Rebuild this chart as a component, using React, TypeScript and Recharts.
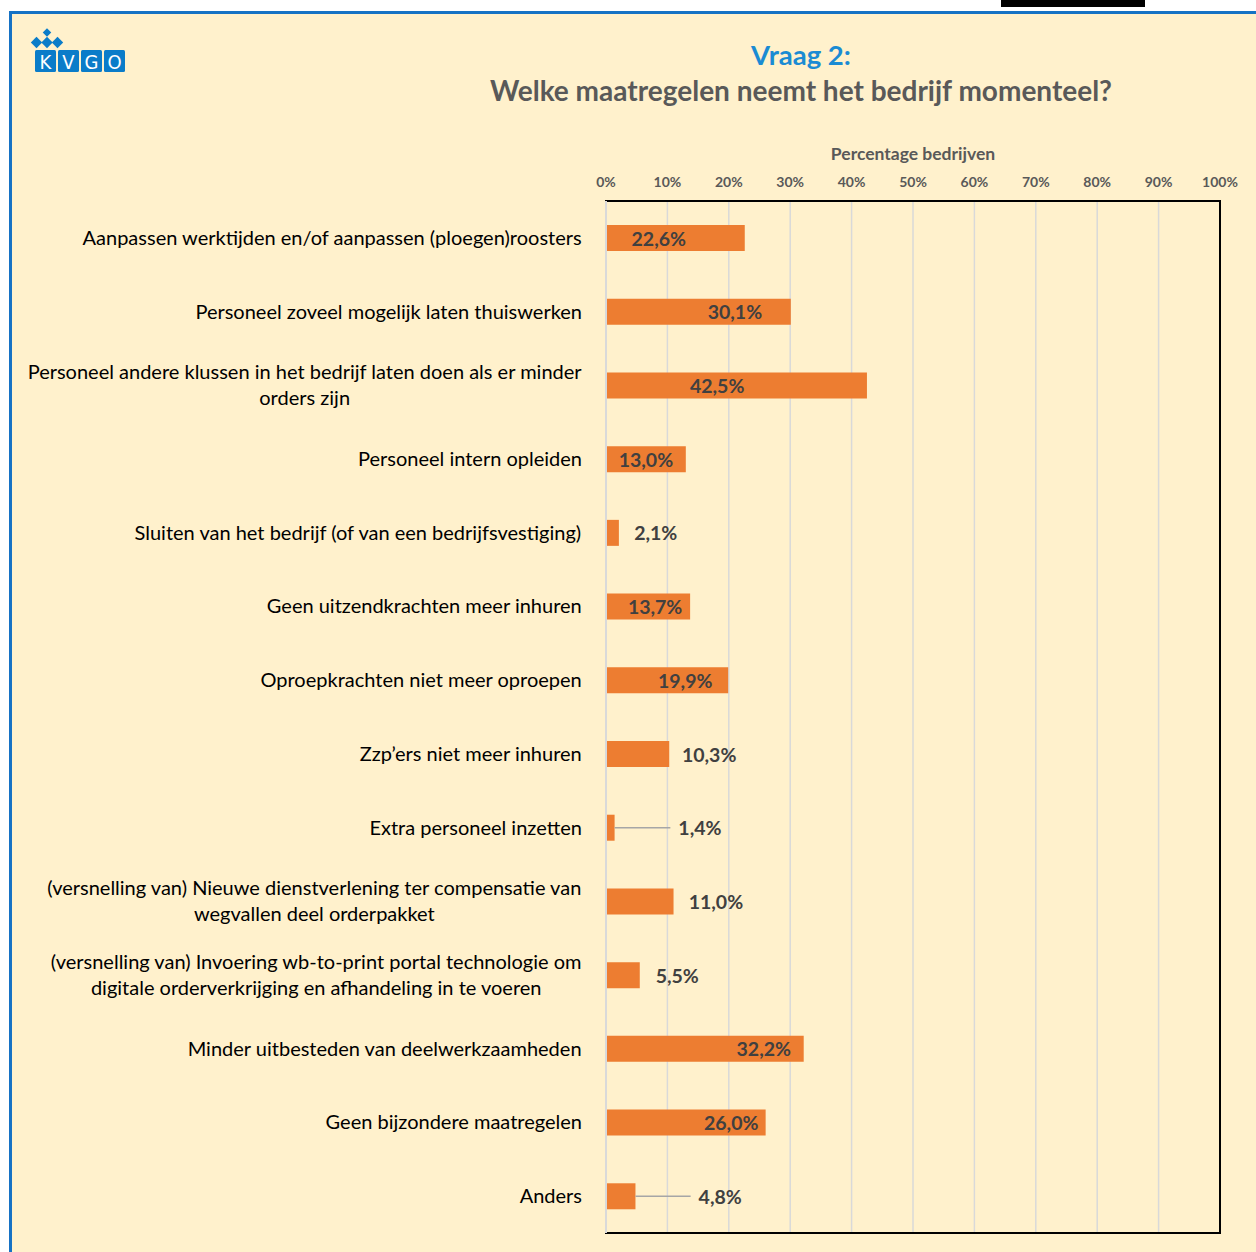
import React from "react";
import {
  BarChart,
  Bar,
  XAxis,
  YAxis,
  CartesianGrid,
  LabelList,
  ReferenceArea,
  ReferenceLine,
  Label,
} from "recharts";

const categories = [
  "Aanpassen werktijden en/of aanpassen (ploegen)roosters",
  "Personeel zoveel mogelijk laten thuiswerken",
  "Personeel andere klussen in het bedrijf laten doen als er minder\norders zijn",
  "Personeel intern opleiden",
  "Sluiten van het bedrijf (of van een bedrijfsvestiging)",
  "Geen uitzendkrachten meer inhuren",
  "Oproepkrachten niet meer oproepen",
  "Zzp’ers niet meer inhuren",
  "Extra personeel inzetten",
  "(versnelling van) Nieuwe dienstverlening ter compensatie van\nwegvallen deel orderpakket",
  "(versnelling van) Invoering wb-to-print portal technologie om\ndigitale orderverkrijging en afhandeling in te voeren",
  "Minder uitbesteden van deelwerkzaamheden",
  "Geen bijzondere maatregelen",
  "Anders",
];

const percentages = [22.6, 30.1, 42.5, 13.0, 2.1, 13.7, 19.9, 10.3, 1.4, 11.0, 5.5, 32.2, 26.0, 4.8];

// centre of each data label, in axis percent (placed by hand in the original)
const labelCentres = [8.6, 21.0, 18.1, 6.5, 8.1, 8.0, 12.9, 16.8, 15.3, 17.9, 11.6, 25.7, 20.4, 18.6];

const xTicks = [0, 10, 20, 30, 40, 50, 60, 70, 80, 90, 100];

const data = categories.map((name, i) => ({ name, value: percentages[i], labelAt: labelCentres[i] }));

const FONT = "Lato";
const GREY = "#595959";
const DARK = "#404040";

let ctx: CanvasRenderingContext2D | null = null;
function measure(text: string, font: string) {
  if (!ctx) ctx = document.createElement("canvas").getContext("2d");
  if (!ctx) return text.length * 9;
  ctx.font = font;
  return ctx.measureText(text).width;
}

const fmt = (v: number) => v.toFixed(1).replace(".", ",") + "%";

function CategoryTick(props: any) {
  const { x, y, payload } = props;
  const lines = String(payload.value).split("\n");
  const size = 20;
  const lh = 26;
  const right = x - 22;
  const widest = Math.max(...lines.map((l) => measure(l, `${size}px ${FONT}`)));
  const cx = right - widest / 2;
  const top = y - ((lines.length - 1) * lh) / 2;
  return (
    <text textAnchor="middle" fontFamily={FONT} fontSize={size} fill="#000">
      {lines.map((l, i) => (
        <tspan key={i} x={cx} y={top + i * lh} dy={7}>
          {l}
        </tspan>
      ))}
    </text>
  );
}

function ValueLabel(props: any) {
  const { x, y, width, height, value, index } = props;
  const v = Number(value);
  const perUnit = width / v;
  const cx = x + data[index].labelAt * perUnit;
  const size = 19.5;
  const txt = fmt(v);
  const w = measure(txt, `bold ${size}px ${FONT}`);
  const barEnd = x + width;
  const start = cx - w / 2;
  const cy = y + height / 2;
  return (
    <g>
      {start - barEnd > 30 && (
        <line x1={barEnd} x2={start - 8} y1={cy} y2={cy} stroke="#A6A6A6" strokeWidth={1.5} />
      )}
      <text x={cx} y={cy} dy={7.5} textAnchor="middle" fontFamily={FONT} fontWeight="bold" fontSize={size} fill={DARK}>
        {txt}
      </text>
    </g>
  );
}

function Logo() {
  const blue = "#0A7CC9";
  const letters = ["K", "V", "G", "O"];
  return (
    <svg width={100} height={50} style={{ position: "absolute", left: 30, top: 28 }}>
      <rect x={14} y={1.5} width={6} height={6} fill={blue} transform="rotate(45 17 4.5)" />
      <rect x={2.5} y={10.5} width={8} height={8} fill={blue} transform="rotate(45 6.5 14.5)" />
      <rect x={13} y={10.5} width={8} height={8} fill={blue} transform="rotate(45 17 14.5)" />
      <rect x={23.5} y={10.5} width={8} height={8} fill={blue} transform="rotate(45 27.5 14.5)" />
      {letters.map((l, i) => (
        <g key={l}>
          <rect x={5 + i * 23} y={22} width={21} height={22} rx={1.5} fill={blue} />
          <text x={15.5 + i * 23} y={41} textAnchor="middle" fontFamily="DejaVu Sans Condensed, DejaVu Sans" fontSize={20} fill="#fff">
            {l}
          </text>
        </g>
      ))}
    </svg>
  );
}

export default function App() {
  return (
    <div style={{ position: "absolute", left: 0, top: 0, width: 1256, height: 1252, background: "#fff", overflow: "hidden" }}>
      <div
        style={{
          position: "absolute",
          left: 9,
          top: 11,
          width: 1300,
          height: 1300,
          background: "#FFF1CC",
          borderTop: "3px solid #1672C4",
          borderLeft: "3px solid #1672C4",
        }}
      />
      <div style={{ position: "absolute", left: 1001, top: 0, width: 144, height: 7, background: "#000" }} />
      <Logo />
      <div
        style={{
          position: "absolute",
          left: 401,
          width: 800,
          top: 38,
          textAlign: "center",
          fontFamily: FONT,
          fontWeight: "bold",
          fontSize: 27.5,
          color: "#1A8BD3",
        }}
      >
        Vraag 2:
      </div>
      <div
        style={{
          position: "absolute",
          left: 401,
          width: 800,
          top: 73,
          textAlign: "center",
          fontFamily: FONT,
          fontWeight: "bold",
          fontSize: 28,
          color: GREY,
        }}
      >
        Welke maatregelen neemt het bedrijf momenteel?
      </div>
      <div style={{ position: "absolute", left: 0, top: 0 }}>
        <BarChart
          width={1256}
          height={1252}
          data={data}
          layout="vertical"
          margin={{ top: 161, right: 36, bottom: 19, left: 0 }}
          barCategoryGap={0}
        >
          <CartesianGrid horizontal={false} stroke="#D9D9D9" strokeWidth={1.5} />
          <XAxis
            type="number"
            orientation="top"
            domain={[0, 100]}
            ticks={xTicks}
            tickFormatter={(v) => `${v}%`}
            height={40}
            axisLine={false}
            tickLine={false}
            tickSize={0}
            tickMargin={14}
            tick={{ fill: GREY, fontSize: 14, fontWeight: "bold", fontFamily: FONT }}
            interval={0}
          >
            <Label
              value="Percentage bedrijven"
              position="top"
              offset={1}
              fill={GREY}
              fontSize={17.5}
              fontWeight="bold"
              fontFamily={FONT}
            />
          </XAxis>
          <YAxis
            type="category"
            dataKey="name"
            width={606}
            axisLine={false}
            tickLine={false}
            tickSize={0}
            tick={<CategoryTick />}
            interval={0}
          />
          <ReferenceArea x1={0} x2={100} fill="none" stroke="#000" strokeWidth={2} fillOpacity={0} />
          <ReferenceLine x={0} stroke="#D9D9D9" strokeWidth={2} />
          <Bar dataKey="value" fill="#ED7D31" barSize={26} isAnimationActive={false}>
            <LabelList dataKey="value" content={<ValueLabel />} />
          </Bar>
        </BarChart>
      </div>
    </div>
  );
}
